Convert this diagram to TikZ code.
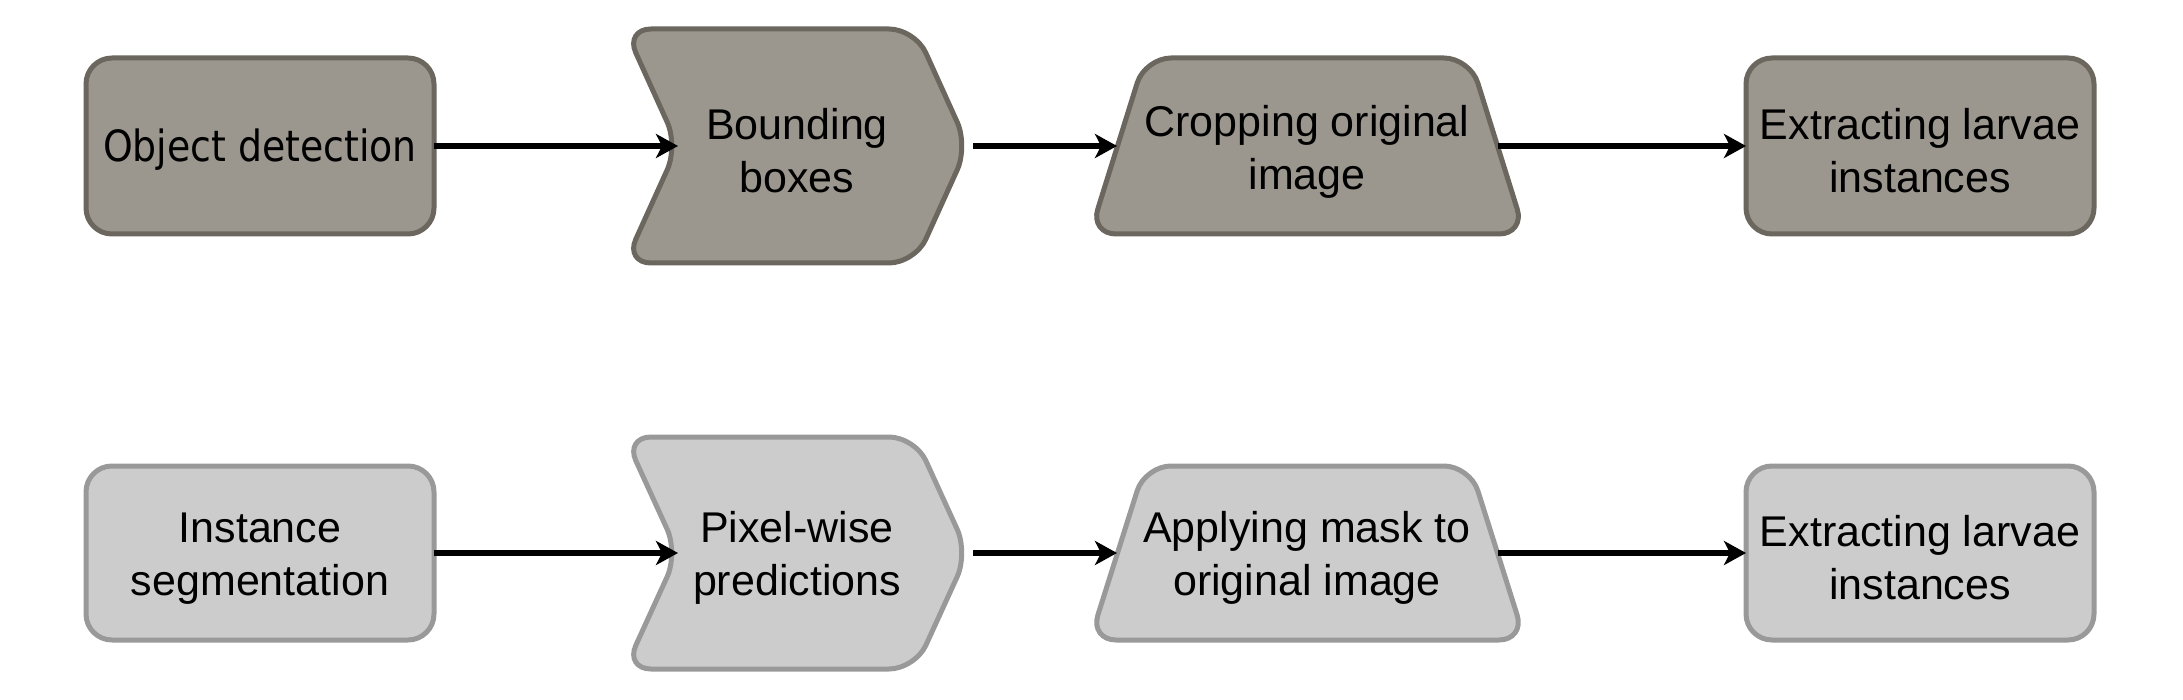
\documentclass[tikz,border=0pt]{standalone}
\usepackage{fontspec}
\setmainfont{Liberation Sans}
\newfontfamily\tahfont[FakeStretch=0.88]{DejaVu Sans}
\usetikzlibrary{arrows.meta}
\definecolor{darkfill}{RGB}{155,150,142}
\definecolor{darkline}{RGB}{107,103,95}
\definecolor{lightfill}{RGB}{204,204,204}
\definecolor{lightline}{RGB}{153,153,153}
\tikzset{
  shp/.style={line width=5pt, rounded corners=26pt},
  topshp/.style={shp, fill=darkfill, draw=darkline},
  botshp/.style={shp, fill=lightfill, draw=lightline},
  lbl/.style={font=\fontsize{43pt}{53pt}\selectfont, align=center, inner sep=0pt, text=black},
  conn/.style={line width=5.5pt, -{Stealth[length=22pt,width=24pt,inset=6pt]}},
}
\begin{document}
\begin{tikzpicture}[x=1pt,y=-1pt]
\useasboundingbox (0,0) rectangle (2183,700);
% ---------- row 1 ----------
\def\c{146}
\draw[topshp] (86,\c-88) rectangle (434,\c+88);
\node[lbl] (a1) at (260,\c+4) {\tahfont Object detection};
\coordinate (a1o) at (434,\c);
\draw[topshp] (625,\c-117) -- (915,\c-117) -- (968,\c) -- (915,\c+117) -- (625,\c+117) -- (678,\c) -- cycle;
\node[lbl] (a2) at (797,\c+5) {Bounding\\boxes};
\coordinate (a2i) at (678,\c);
\coordinate (a2o) at (973,\c);
\draw[topshp] (1090,\c+88) -- (1145,\c-88) -- (1470,\c-88) -- (1525,\c+88) -- cycle;
\node[lbl] (a3) at (1307,\c+6) {Cropping original\\image};
\coordinate (a3i) at (1117,\c);
\coordinate (a3o) at (1498,\c);
\draw[topshp] (1746,\c-88) rectangle (2094,\c+88);
\node[lbl] (a4) at (1920,\c+5) {Extracting larvae\\instances};
\coordinate (a4i) at (1746,\c);
\draw[conn] (a1o) -- (a2i);
\draw[conn] (a2o) -- (a3i);
\draw[conn] (a3o) -- (a4i);
% ---------- row 2 ----------
\def\c{553}
\draw[botshp] (86,\c-87) rectangle (434,\c+87);
\node[lbl] (b1) at (260,\c+6) {Instance\\segmentation};
\coordinate (b1o) at (434,\c);
\draw[botshp] (625,\c-116) -- (915,\c-116) -- (968,\c) -- (915,\c+116) -- (625,\c+116) -- (678,\c) -- cycle;
\node[lbl] (b2) at (797,\c+5) {Pixel-wise\\predictions};
\coordinate (b2i) at (678,\c);
\coordinate (b2o) at (973,\c);
\draw[botshp] (1090,\c+87) -- (1145,\c-87) -- (1470,\c-87) -- (1525,\c+87) -- cycle;
\node[lbl] (b3) at (1307,\c+5) {Applying mask to\\original image};
\coordinate (b3i) at (1117,\c);
\coordinate (b3o) at (1498,\c);
\draw[botshp] (1746,\c-87) rectangle (2094,\c+87);
\node[lbl] (b4) at (1920,\c+5) {Extracting larvae\\instances};
\coordinate (b4i) at (1746,\c);
\draw[conn] (b1o) -- (b2i);
\draw[conn] (b2o) -- (b3i);
\draw[conn] (b3o) -- (b4i);
\end{tikzpicture}
\end{document}
